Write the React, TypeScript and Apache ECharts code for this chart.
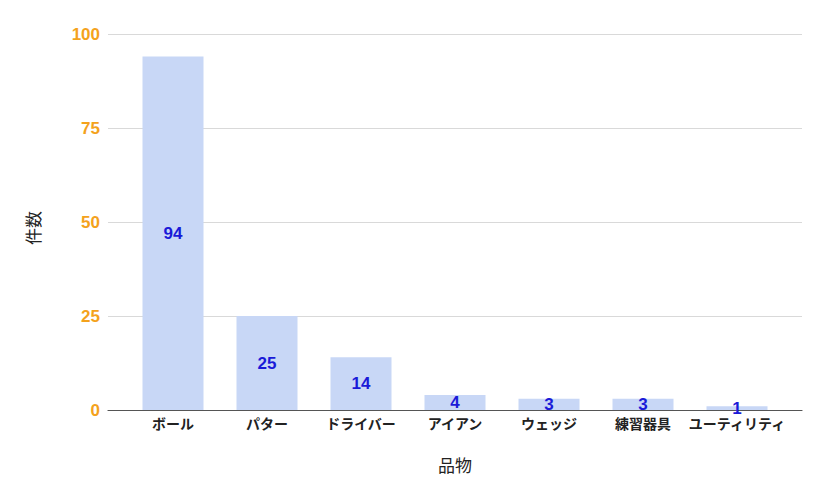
import React, { useEffect, useRef } from "react";
import * as echarts from "echarts";

const categories = ["ボール", "パター", "ドライバー", "アイアン", "ウェッジ", "練習器具", "ユーティリティ"];
const counts = [94, 25, 14, 4, 3, 3, 1];
const yTicks = { min: 0, max: 100, interval: 25 };
const xAxisName = "品物";
const yAxisName = "件数";

const FONT = "'Liberation Sans', 'Noto Sans CJK JP', sans-serif";

export default function App() {
  const ref = useRef<HTMLDivElement>(null);
  useEffect(() => {
    if (!ref.current) return;
    const chart = echarts.init(ref.current, undefined, { renderer: "svg" });
    chart.setOption({
      animation: false,
      backgroundColor: "#ffffff",
      textStyle: { fontFamily: FONT },
      grid: [
        { left: 108, right: 25, top: 34, bottom: 87, containLabel: false },
        { left: 126, right: 43, top: 34, bottom: 87, containLabel: false },
      ],
      xAxis: [
        {
          gridIndex: 0,
          type: "category",
          data: categories,
          axisLine: { show: true, lineStyle: { color: "#555555", width: 1.2 } },
          axisTick: { show: false },
          axisLabel: { show: false },
          splitLine: { show: false },
        },
        {
          gridIndex: 1,
          type: "category",
          data: categories,
          axisLine: { show: false },
          axisTick: { show: false },
          axisLabel: {
            show: true,
            color: "#222222",
            fontSize: 14,
            fontWeight: "bold",
            margin: 7,
            interval: 0,
            fontFamily: FONT,
          },
          name: xAxisName,
          nameLocation: "middle",
          nameGap: 48,
          nameTextStyle: { color: "#222222", fontSize: 17, fontFamily: FONT },
        },
      ],
      yAxis: [
        {
          gridIndex: 0,
          type: "value",
          min: yTicks.min,
          max: yTicks.max,
          interval: yTicks.interval,
          axisLine: { show: false },
          axisTick: { show: false },
          axisLabel: {
            color: "#f4a21c",
            fontSize: 17,
            fontWeight: "bold",
            margin: 8,
            fontFamily: FONT,
          },
          splitLine: { show: true, lineStyle: { color: "#d9d9d9", width: 1 } },
          name: yAxisName,
          nameLocation: "middle",
          nameGap: 65,
          nameRotate: 90,
          nameTextStyle: {
            color: "#222222",
            fontSize: 17,
            fontFamily: FONT,
            padding: [0, 12, 0, 0],
          },
        },
        {
          gridIndex: 1,
          type: "value",
          min: yTicks.min,
          max: yTicks.max,
          interval: yTicks.interval,
          show: false,
          splitLine: { show: false },
        },
      ],
      series: [
        {
          type: "bar",
          xAxisIndex: 1,
          yAxisIndex: 1,
          data: counts,
          barWidth: 61,
          itemStyle: { color: "#c8d7f6" },
          label: {
            show: true,
            position: "inside",
            color: "#1a1ad8",
            fontSize: 17,
            fontWeight: "bold",
            fontFamily: FONT,
          },
        },
      ],
    });
    return () => chart.dispose();
  }, []);
  return (
    <div
      ref={ref}
      style={{ position: "absolute", left: 0, top: 0, width: 827, height: 497 }}
    />
  );
}
